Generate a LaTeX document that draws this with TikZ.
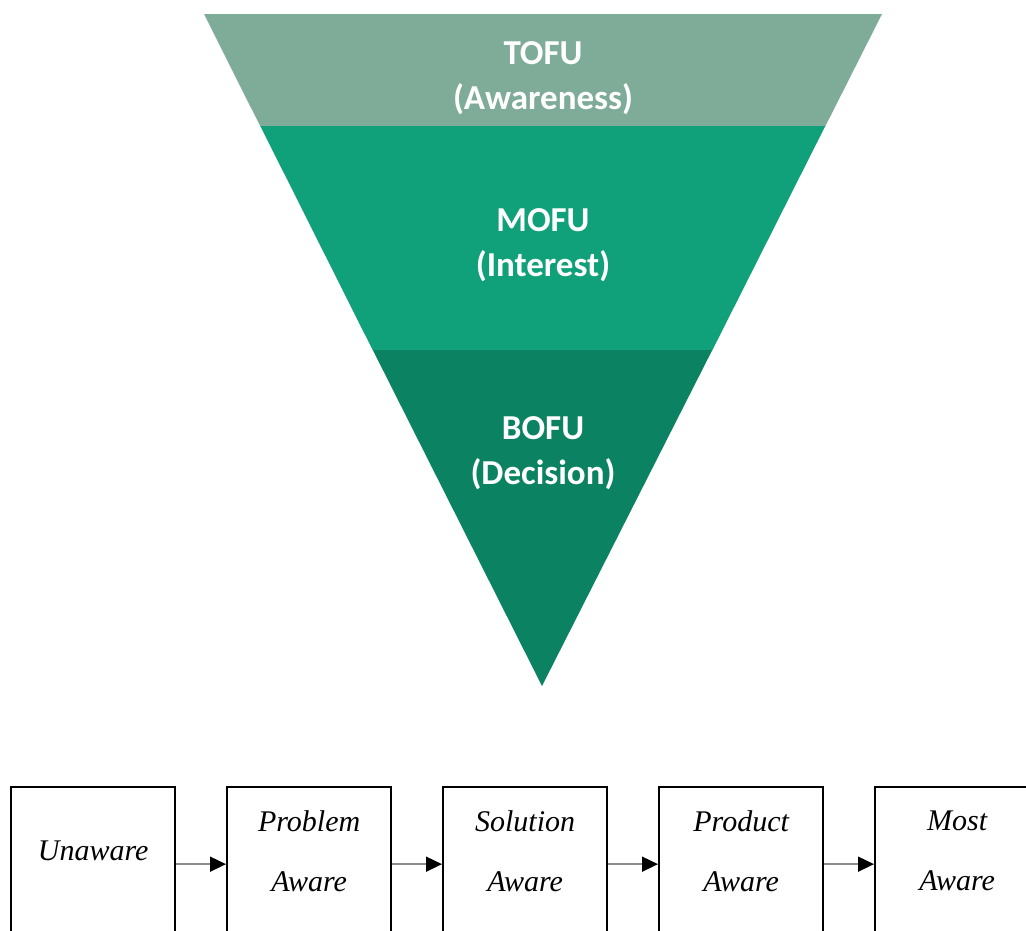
\documentclass[tikz,border=0pt]{standalone}
\usepackage{fontspec}
\setmainfont{Liberation Serif}
\newfontfamily\funnelfont{Carlito}
\newfontfamily\boxfont{Liberation Serif}
\usetikzlibrary{arrows.meta}
\definecolor{tofucol}{RGB}{126,172,152}
\definecolor{mofucol}{RGB}{16,160,122}
\definecolor{bofucol}{RGB}{11,131,98}
\definecolor{linkgray}{RGB}{140,140,140}
\tikzset{
  funneltext/.style={text=white, align=center, inner sep=0pt,
    font=\funnelfont\bfseries\fontsize{35}{45}\selectfont},
  awbox/.style={draw=black, line width=2.3pt, minimum width=164pt, minimum height=154pt,
    inner sep=0pt, anchor=north west},
  awtext/.style={align=center, inner sep=0pt,
    font=\boxfont\itshape\fontsize{30}{60}\selectfont},
  link/.style={draw=linkgray, line width=1.6pt,
    -{Triangle[length=16pt,width=15pt,color=black]}}
}
\begin{document}
\begin{tikzpicture}[x=1pt,y=-1pt]
\useasboundingbox (0,0) rectangle (1026,930);
\clip (0,0) rectangle (1026,930);
% funnel
\fill[tofucol] (204,14) -- (882,14) -- (825.3,126.3) -- (260.3,126.3) -- cycle;
\fill[mofucol] (260.3,126) -- (825.3,126) -- (712.3,350.3) -- (372.8,350.3) -- cycle;
\fill[bofucol] (372.8,350) -- (712.3,350) -- (542,686) -- cycle;
\node[funneltext] (tofu) at (543,78) {TOFU\\(Awareness)};
\node[funneltext] (mofu) at (543,245) {MOFU\\(Interest)};
\node[funneltext] (bofu) at (543,453) {BOFU\\(Decision)};
% awareness boxes
\node[awbox] (b1) at (10,786) {};
\node[awbox] (b2) at (226,786) {};
\node[awbox] (b3) at (442,786) {};
\node[awbox] (b4) at (658,786) {};
\node[awbox] (b5) at (874,786) {};
\node[awtext] (t1) at ([yshift=13pt]b1.center) {Unaware};
\node[awtext] (t2) at ([yshift=13pt]b2.center) {Problem\\Aware};
\node[awtext] (t3) at ([yshift=13pt]b3.center) {Solution\\Aware};
\node[awtext] (t4) at ([yshift=13pt]b4.center) {Product\\Aware};
\node[awtext] (t5) at ([yshift=13pt]b5.center) {Most\\Aware};
\draw[link] (b1.east) -- (b2.west);
\draw[link] (b2.east) -- (b3.west);
\draw[link] (b3.east) -- (b4.west);
\draw[link] (b4.east) -- (b5.west);
\end{tikzpicture}
\end{document}
